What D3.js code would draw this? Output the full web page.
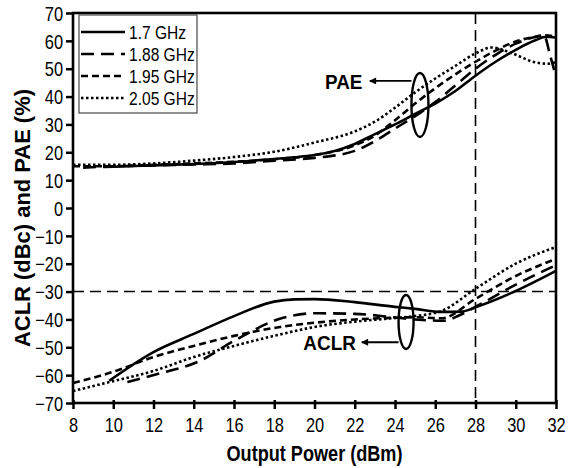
<!DOCTYPE html>
<html>
<head>
<meta charset="utf-8">
<script src="https://cdn.jsdelivr.net/npm/d3@7"></script>
<style>
  body { margin: 0; background: #fff; }
  svg text { font-family: "Liberation Sans", Arial, sans-serif; }
</style>
</head>
<body>
<div id="chart"></div>
<script>
// Output power (dBm) vs value
const pae17 = [[9.5, 14.7], [10, 14.8], [12, 15.3], [14, 15.8], [16, 16.5], [18, 17.6], [19, 18.2], [20, 19], [21, 20.5], [22, 23], [23, 26.5], [24, 30], [25, 33.8], [26, 37.5], [27, 42], [28, 47.5], [29, 52.5], [30, 56.8], [31, 60.3], [31.5, 61.5], [32, 61.2]];
const pae188 = [[8.5, 14.5], [10, 15], [12, 15.3], [14, 15.6], [16, 16], [18, 17], [20, 18], [22, 20.5], [23, 24], [24, 28.5], [25, 33], [26, 38], [27, 44], [28, 50], [29, 55], [30, 59], [31, 61.5], [31.4, 62], [31.7, 55], [32, 47]];
const pae195 = [[8, 15], [10, 15], [12, 15.5], [14, 16], [16, 16.6], [18, 17.5], [20, 19], [22, 22.5], [23, 26], [24, 31.5], [25, 37.5], [26, 43], [27, 48], [28, 52.5], [29, 56.5], [30, 59.8], [31, 61.5], [31.5, 62], [32, 61.5]];
const pae205 = [[8, 15.5], [10, 15.5], [12, 16], [14, 17], [16, 18.3], [18, 20.2], [20, 23.5], [22, 27.5], [23, 31], [24, 36], [25, 41.5], [26, 46.5], [27, 51], [28, 55.5], [28.8, 57.6], [29.8, 55.6], [30.9, 52.4], [31.6, 51.8], [32, 52.5]];

const aclr17 = [[9.8, -62], [12, -51.7], [14, -45.2], [16, -38.8], [18, -33.6], [19, -32.8], [20, -32.7], [22, -33.8], [24, -35.5], [25, -36.2], [26.3, -37.3], [27.3, -37.2], [28, -35.6], [30, -29.8], [32, -22.6]];
const aclr188 = [[10.7, -62.5], [12.2, -59.6], [14.3, -54.9], [16, -47.7], [18.4, -39.5], [20, -37.8], [22, -38], [24, -39.3], [25, -40], [26.4, -40.5], [27.2, -38.5], [28, -35.5], [30, -27.5], [32, -20.5]];
const aclr195 = [[8, -62.8], [10, -58.8], [12, -53.5], [14, -49.5], [16, -45.9], [18.4, -42.6], [20, -41.2], [22, -40], [24, -39.4], [25, -39.2], [26.3, -39.6], [28, -32.6], [30, -24.4], [32, -18.3]];
const aclr205 = [[8, -65.7], [9.8, -62.5], [12, -58.5], [14, -53.5], [16, -49.5], [18.4, -45.2], [20, -42.7], [22, -40.8], [23.5, -39.8], [25, -38.8], [26.3, -37], [28, -29], [30, -20], [32, -14]];

const legendLabels = ["1.7 GHz", "1.88 GHz", "1.95 GHz", "2.05 GHz"];
const dashes = [null, "13,7", "7,4", "2.5,2.5"];
const xTicks = d3.range(8, 33, 2);
const yTicks = d3.range(-70, 71, 10);
const xDomain = [8, 32];
const yDomain = [-70, 70];
const refX = 28;
const refY = -30;

const width = 568;
const height = 468;
const margin = {top: 13, right: 12, bottom: 65, left: 73};
const narrow = 0.82; // the picture uses a condensed face

const x = d3.scaleLinear()
  .domain(xDomain)
  .range([margin.left, width - margin.right]);

const y = d3.scaleLinear()
  .domain(yDomain)
  .range([height - margin.bottom, margin.top]);

const svg = d3.select('#chart').append('svg')
  .attr('width', width)
  .attr('height', height);

const xAxis = g => g
  .attr('transform', `translate(0,${height - margin.bottom})`)
  .call(d3.axisBottom(x).tickValues(xTicks).tickSize(6).tickSizeOuter(0).tickFormat(d3.format('d')))
  .call(g => g.select('.domain').remove())
  .call(g => g.selectAll('line').attr('stroke', '#000').attr('stroke-width', 2.5).attr('y1', -3))
  .call(g => g.selectAll('text')
    .attr('dy', null).attr('y', 29)
    .attr('transform', `scale(${narrow},1)`)
    .attr('font-size', 20).attr('fill', '#000'));

const yAxis = g => g
  .attr('transform', `translate(${margin.left},0)`)
  .call(d3.axisLeft(y).tickValues(yTicks).tickSize(7).tickSizeOuter(0))
  .call(g => g.select('.domain').remove())
  .call(g => g.selectAll('line').attr('stroke', '#000').attr('stroke-width', 2.5))
  .call(g => g.selectAll('text')
    .attr('x', -10 / narrow).attr('dy', '0.36em')
    .attr('transform', `scale(${narrow},1)`)
    .attr('font-size', 20).attr('fill', '#000'));

svg.append('g').call(xAxis);
svg.append('g').call(yAxis);

// reference lines
svg.append('line')
  .attr('x1', x(xDomain[0])).attr('x2', x(xDomain[1]))
  .attr('y1', y(refY)).attr('y2', y(refY))
  .attr('stroke', '#000').attr('stroke-width', 1.6).attr('stroke-dasharray', '11,6');

svg.append('line')
  .attr('x1', x(refX)).attr('x2', x(refX))
  .attr('y1', y(yDomain[1])).attr('y2', y(yDomain[0]))
  .attr('stroke', '#000').attr('stroke-width', 1.6).attr('stroke-dasharray', '11,6');

const line = d3.line()
  .curve(d3.curveMonotoneX)
  .x(d => x(d[0]))
  .y(d => y(d[1]));

const series = [
  [pae17, aclr17],
  [pae188, aclr188],
  [pae195, aclr195],
  [pae205, aclr205]
];

series.forEach((s, i) => {
  s.forEach(data => {
    svg.append('path')
      .datum(data)
      .attr('fill', 'none')
      .attr('stroke', '#000')
      .attr('stroke-width', 2.6)
      .attr('stroke-dasharray', dashes[i])
      .attr('d', line);
  });
});

// frame
svg.append('rect')
  .attr('x', x(xDomain[0])).attr('y', y(yDomain[1]))
  .attr('width', x(xDomain[1]) - x(xDomain[0]))
  .attr('height', y(yDomain[0]) - y(yDomain[1]))
  .attr('fill', 'none').attr('stroke', '#000').attr('stroke-width', 2.6);

// legend
const legend = svg.append('g').attr('transform', 'translate(79,15)');
legend.append('rect')
  .attr('width', 118).attr('height', 98)
  .attr('fill', '#fff').attr('stroke', '#555').attr('stroke-width', 1.3);

legendLabels.forEach((label, i) => {
  const ly = 17 + i * 22;
  legend.append('line')
    .attr('x1', 2).attr('x2', 46).attr('y1', ly).attr('y2', ly)
    .attr('stroke', '#000').attr('stroke-width', 2.6)
    .attr('stroke-dasharray', dashes[i]);
  legend.append('text')
    .attr('transform', `translate(50,${ly}) scale(${narrow},1)`)
    .attr('dy', '0.36em')
    .attr('font-size', 19)
    .text(label);
});

// annotations
svg.append('defs').append('marker')
  .attr('id', 'arrow')
  .attr('viewBox', '0 0 10 10')
  .attr('refX', 9).attr('refY', 5)
  .attr('markerWidth', 10).attr('markerHeight', 7)
  .attr('markerUnits', 'userSpaceOnUse')
  .attr('orient', 'auto')
  .append('path').attr('d', 'M0,0 L10,5 L0,10 z').attr('fill', '#000');

const notes = [
  {label: 'PAE', tx: 21.45, ty: 45.6, ax: 22.75, cx: 25.24, cy: 37, rx: 8.5, ry: 32},
  {label: 'ACLR', tx: 20.75, ty: -48.2, ax: 22.35, cx: 24.55, cy: -40.9, rx: 7.5, ry: 27}
];

notes.forEach(n => {
  svg.append('ellipse')
    .attr('cx', x(n.cx)).attr('cy', y(n.cy))
    .attr('rx', n.rx).attr('ry', n.ry)
    .attr('fill', 'none').attr('stroke', '#000').attr('stroke-width', 2.4);
  svg.append('line')
    .attr('x1', x(n.cx) - n.rx).attr('x2', x(n.ax))
    .attr('y1', y(n.ty)).attr('y2', y(n.ty))
    .attr('stroke', '#000').attr('stroke-width', 1.8)
    .attr('marker-end', 'url(#arrow)');
  svg.append('text')
    .attr('transform', `translate(${x(n.tx)},${y(n.ty)}) scale(0.9,1)`)
    .attr('dy', '0.36em')
    .attr('text-anchor', 'middle')
    .attr('font-size', 21).attr('font-weight', 'bold')
    .text(n.label);
});

// axis titles
svg.append('text')
  .attr('x', (x(xDomain[0]) + x(xDomain[1])) / 2).attr('y', 453).attr('dy', '0.35em')
  .attr('text-anchor', 'middle')
  .attr('font-size', 22).attr('font-weight', 'bold')
  .attr('textLength', 176).attr('lengthAdjust', 'spacingAndGlyphs')
  .text('Output Power (dBm)');

svg.append('text')
  .attr('transform', 'translate(22,218) rotate(-90)')
  .attr('dy', '0.35em')
  .attr('text-anchor', 'middle')
  .attr('font-size', 22).attr('font-weight', 'bold')
  .attr('textLength', 258).attr('lengthAdjust', 'spacingAndGlyphs')
  .text('ACLR (dBc) and PAE (%)');
</script>
</body>
</html>
